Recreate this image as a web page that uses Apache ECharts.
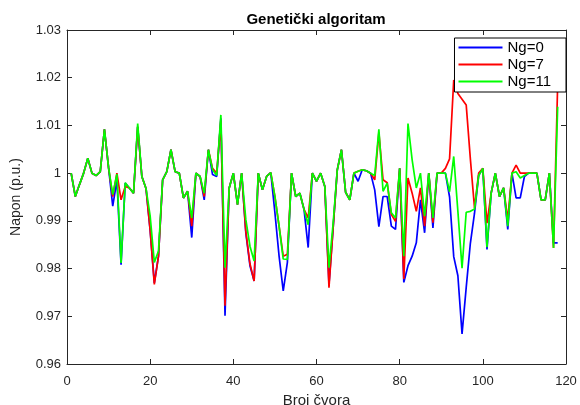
<!DOCTYPE html>
<html>
<head>
<meta charset="utf-8">
<script src="https://cdn.jsdelivr.net/npm/echarts@6/dist/echarts.min.js"></script>
<style>
html,body{margin:0;padding:0;background:#fff;}
#chart{width:580px;height:405px;}
</style>
</head>
<body>
<div id="chart"></div>
<script>
// Node numbers (x categories)
var nodes = [];
for (var k = 1; k <= 118; k++) nodes.push(k);

var xTicks = [0, 20, 40, 60, 80, 100, 120];
var yTicks = [0.96, 0.97, 0.98, 0.99, 1.00, 1.01, 1.02, 1.03];

// Ng=0 (blue)
var ng0 = [
1.0000,0.9951,0.9976,1.0000,1.0031,1.0000,0.9995,1.0003,1.0092,1.0011,
0.9931,0.9985,0.9808,0.9979,0.9969,0.9958,1.0097,0.9993,0.9968,0.9880,
0.9770,0.9826,0.9986,1.0003,1.0049,1.0003,1.0000,0.9948,0.9962,0.9865,
1.0000,0.9993,0.9944,1.0049,0.9997,0.9993,1.0115,0.9701,0.9969,1.0000,
0.9934,1.0000,0.9875,0.9806,0.9774,1.0000,0.9965,0.9993,1.0001,0.9917,
0.9826,0.9753,0.9813,1.0000,0.9951,0.9958,0.9924,0.9844,1.0000,0.9983,
1.0000,0.9972,0.9767,0.9885,1.0007,1.0049,0.9960,0.9944,1.0000,0.9983,
1.0007,1.0005,1.0000,0.9965,0.9888,0.9951,0.9951,0.9889,0.9882,1.0010,
0.9771,0.9806,0.9826,0.9854,0.9944,0.9875,1.0000,0.9885,1.0000,1.0000,
1.0000,0.9950,0.9825,0.9785,0.9663,0.9760,0.9853,0.9916,0.9995,1.0010,
0.9840,0.9958,1.0000,0.9951,0.9969,0.9882,1.0000,0.9948,0.9948,0.9993,
1.0000,1.0000,1.0000,0.9944,0.9944,1.0000,0.9854,0.9854
];

// Ng=7 (red)
var ng7 = [
1.0000,0.9951,0.9976,1.0000,1.0031,1.0000,0.9995,1.0003,1.0092,1.0011,
0.9951,1.0000,0.9944,0.9972,0.9969,0.9958,1.0097,0.9993,0.9968,0.9880,
0.9767,0.9826,0.9986,1.0003,1.0049,1.0003,1.0000,0.9948,0.9962,0.9889,
1.0000,0.9993,0.9951,1.0049,1.0010,1.0000,1.0110,0.9722,0.9969,1.0000,
0.9934,1.0000,0.9878,0.9810,0.9774,1.0000,0.9965,0.9993,1.0001,0.9951,
0.9889,0.9826,0.9830,1.0000,0.9951,0.9958,0.9924,0.9906,1.0000,0.9983,
1.0000,0.9972,0.9760,0.9885,1.0007,1.0049,0.9960,0.9944,1.0000,1.0004,
1.0007,1.0005,1.0000,0.9986,1.0085,0.9986,0.9980,0.9913,0.9899,1.0010,
0.9778,0.9990,0.9958,0.9920,0.9969,0.9889,1.0000,0.9896,1.0000,1.0000,
1.0010,1.0030,1.0195,1.0167,1.0155,1.0143,1.0030,0.9927,1.0000,1.0010,
0.9895,0.9958,1.0000,0.9951,0.9969,0.9902,1.0000,1.0017,1.0000,1.0000,
1.0000,1.0000,1.0000,0.9944,0.9944,1.0000,0.9843,1.0188
];

// Ng=11 (green)
var ng11 = [
1.0000,0.9951,0.9976,1.0000,1.0031,1.0000,0.9995,1.0003,1.0092,1.0011,
0.9955,0.9998,0.9812,0.9980,0.9969,0.9958,1.0104,0.9993,0.9968,0.9910,
0.9813,0.9837,0.9986,1.0003,1.0049,1.0003,1.0000,0.9948,0.9962,0.9906,
1.0000,0.9993,0.9958,1.0049,1.0007,0.9995,1.0122,0.9802,0.9969,1.0000,
0.9934,1.0000,0.9903,0.9847,0.9816,1.0000,0.9965,0.9993,1.0001,0.9951,
0.9889,0.9820,0.9819,1.0000,0.9951,0.9958,0.9924,0.9892,1.0000,0.9983,
1.0000,0.9972,0.9802,0.9895,1.0007,1.0049,0.9960,0.9944,1.0000,1.0004,
1.0007,1.0005,1.0000,0.9995,1.0092,0.9962,0.9979,0.9917,0.9906,1.0010,
0.9826,1.0104,1.0028,0.9969,1.0000,0.9910,1.0000,0.9906,1.0000,1.0000,
1.0000,0.9961,1.0035,0.9920,0.9801,0.9918,0.9920,0.9925,0.9995,1.0010,
0.9845,0.9958,1.0000,0.9951,0.9969,0.9889,1.0000,1.0003,0.9990,0.9995,
1.0000,1.0000,1.0000,0.9944,0.9944,1.0000,0.9843,1.0139
];

var seriesNames = ['Ng=0', 'Ng=7', 'Ng=11'];
var seriesColors = ['#0000ff', '#ff0000', '#00ff00'];
var seriesValues = [ng0, ng7, ng11];

function pairs(vals) {
  return nodes.map(function (n, i) { return [n, vals[i]]; });
}

var FONT = 'Liberation Sans, Arial, Helvetica, sans-serif';
var AX = '#262626';

var chart = echarts.init(document.getElementById('chart'), null, {renderer: 'canvas'});

var axisCommonX = {
  type: 'value',
  min: xTicks[0],
  max: xTicks[xTicks.length - 1],
  interval: xTicks[1] - xTicks[0],
  splitLine: {show: false},
  axisLine: {show: true, onZero: false, lineStyle: {color: AX, width: 1}},
  axisTick: {show: true, inside: true, length: 5, lineStyle: {color: AX}}
};
var axisCommonY = {
  type: 'value',
  min: yTicks[0],
  max: yTicks[yTicks.length - 1],
  interval: 0.01,
  splitLine: {show: false},
  axisLine: {show: true, onZero: false, lineStyle: {color: AX, width: 1}},
  axisTick: {show: true, inside: true, length: 5, lineStyle: {color: AX}}
};

var option = {
  backgroundColor: '#ffffff',
  animation: false,
  title: {
    text: 'Genetički algoritam',
    left: 311,
    top: 7,
    textAlign: 'center',
    textStyle: {fontFamily: FONT, fontSize: 15, fontWeight: 'bold', color: '#000'}
  },
  grid: {left: 67, right: 14, top: 30, bottom: 41, containLabel: false, outerBoundsMode: 'none'},
  legend: {
    data: seriesNames.map(function (n) {
      return {name: n, icon: 'path://M0,0H44V2H0Z'};
    }),
    orient: 'vertical',
    right: 14,
    top: 38,
    itemWidth: 44,
    itemHeight: 14,
    itemGap: 0,
    symbolKeepAspect: true,
    padding: [1, 15, 2, 4],
    backgroundColor: '#ffffff',
    borderColor: '#000000',
    borderWidth: 1,
    borderRadius: 0,
    textStyle: {fontFamily: FONT, fontSize: 15, lineHeight: 17, color: '#000'}
  },
  xAxis: [
    Object.assign({}, axisCommonX, {
      position: 'bottom',
      name: 'Broj čvora',
      nameLocation: 'middle',
      nameGap: 23,
      nameTextStyle: {fontFamily: FONT, fontSize: 15, color: AX},
      axisLabel: {show: true, margin: 11, fontFamily: FONT, fontSize: 13, color: AX}
    }),
    Object.assign({}, axisCommonX, {
      position: 'top',
      axisLabel: {show: false}
    })
  ],
  yAxis: [
    Object.assign({}, axisCommonY, {
      position: 'left',
      name: 'Napon (p.u.)',
      nameLocation: 'middle',
      nameGap: 44,
      nameTextStyle: {fontFamily: FONT, fontSize: 14, color: AX},
      axisLabel: {
        show: true, margin: 6, fontFamily: FONT, fontSize: 13, color: AX,
        formatter: function (v) { return String(Math.round(v * 100) / 100); }
      }
    }),
    Object.assign({}, axisCommonY, {
      position: 'right',
      axisLabel: {show: false}
    })
  ],
  series: seriesNames.map(function (name, i) {
    return {
      name: name,
      type: 'line',
      xAxisIndex: 0,
      yAxisIndex: 0,
      data: pairs(seriesValues[i]),
      symbol: 'none',
      showSymbol: false,
      lineStyle: {color: seriesColors[i], width: 1.7},
      itemStyle: {color: seriesColors[i]},
      z: 2 + i
    };
  })
};

chart.setOption(option);
</script>
</body>
</html>
